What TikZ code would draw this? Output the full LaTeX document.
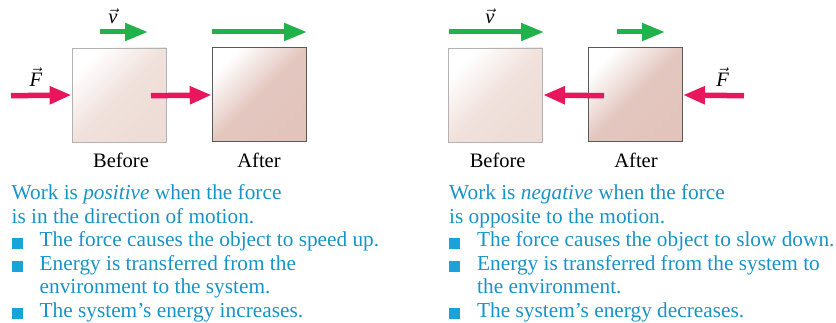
\documentclass[tikz,border=0pt]{standalone}
\usepackage{fontspec}
\setmainfont{Liberation Serif}
\usetikzlibrary{arrows.meta}
\definecolor{vgreen}{HTML}{22B24C}
\definecolor{fred}{HTML}{E8175D}
\definecolor{txtblue}{HTML}{1794C7}
\definecolor{bulblue}{HTML}{1AA3D8}
\definecolor{boxlight}{HTML}{EEDCD6}
\definecolor{boxdark}{HTML}{E2C4BC}
\tikzset{
  velarrow/.style={vgreen, line width=5pt, -{Triangle[length=23pt,width=17pt]}},
  forcearrow/.style={fred, line width=5.5pt, -{Triangle[length=22pt,width=17pt]}},
  lightbox/.style={draw=black!30, line width=0.8pt, minimum size=94pt, inner sep=0pt,
    top color=white, bottom color=boxlight, middle color=boxlight!85!white, shading angle=45},
  darkbox/.style={draw=black!65, line width=1pt, minimum size=94pt, inner sep=0pt,
    top color=white, bottom color=boxdark, middle color=boxdark!95!white, shading angle=45},
  caption/.style={font=\fontsize{20.5}{24}\selectfont, anchor=base, inner sep=0pt},
  body/.style={font=\fontsize{21.3}{24}\selectfont, text=txtblue, anchor=base west, inner sep=0pt},
  vlabel/.style={font=\fontsize{20.5}{24}\selectfont\itshape, inner sep=0pt},
  bulletsq/.style={fill=bulblue, draw=none, minimum size=11pt, inner sep=0pt, anchor=south west},
}
\newcommand{\vecit}[1]{\ensuremath{\vec{\hbox{\itshape #1}}}}
\begin{document}
\begin{tikzpicture}[x=1pt,y=-1pt]
\useasboundingbox (0,0) rectangle (836,323);
% ---------- left panel ----------
\node[lightbox] (b1) at (119,95) {};
\node[darkbox] (a1) at (259.2,95) {};
\coordinate (v1s) at (100,32); \coordinate (v1e) at (148,32);
\draw[velarrow] (v1s) -- (v1e);
\node[vlabel] (v1l) at (113,16) {\vecit{v}};
\coordinate (v2s) at (212,32); \coordinate (v2e) at (307,32);
\draw[velarrow] (v2s) -- (v2e);
\coordinate (f1s) at (11,95.7);
\draw[forcearrow] (f1s) -- (b1.west);
\node[vlabel] (f1l) at (36,77) {\vecit{F}};
\coordinate (f2s) at (151,95.7);
\draw[forcearrow] (f2s) -- (a1.west);
\node[caption] (bl1) at (121,168) {Before};
\node[caption] (al1) at (259,168) {After};
\node[body] (t1) at (11.5,200) {Work is \textit{positive} when the force};
\node[body] (t2) at (11.5,223.5) {is in the direction of motion.};
\node[bulletsq] (s1) at (11.5,249) {};
\node[body] (t3) at (39.5,247) {The force causes the object to speed up.};
\node[bulletsq] (s2) at (11.5,272.5) {};
\node[body] (t4) at (39.5,270.5) {Energy is transferred from the};
\node[body] (t5) at (39.5,294) {environment to the system.};
\node[bulletsq] (s3) at (11.5,319.5) {};
\node[body] (t6) at (39.5,317.5) {The system’s energy increases.};
% ---------- right panel ----------
\node[lightbox] (b2) at (495.7,95) {};
\node[darkbox] (a2) at (635.5,95) {};
\coordinate (v3s) at (449,32); \coordinate (v3e) at (544,32);
\draw[velarrow] (v3s) -- (v3e);
\node[vlabel] (v3l) at (490,16) {\vecit{v}};
\coordinate (v4s) at (617,32); \coordinate (v4e) at (665,32);
\draw[velarrow] (v4s) -- (v4e);
\coordinate (f3s) at (604,95.7);
\draw[forcearrow] (f3s) -- (b2.east);
\coordinate (f4s) at (744,95.7);
\draw[forcearrow] (f4s) -- (a2.east);
\node[vlabel] (f4l) at (722.7,77) {\vecit{F}};
\node[caption] (bl2) at (497.7,168) {Before};
\node[caption] (al2) at (636,168) {After};
\node[body] (u1) at (449,200) {Work is \textit{negative} when the force};
\node[body] (u2) at (449,223.5) {is opposite to the motion.};
\node[bulletsq] (r1) at (449,249) {};
\node[body] (u3) at (477,247) {The force causes the object to slow down.};
\node[bulletsq] (r2) at (449,272.5) {};
\node[body] (u4) at (477,270.5) {Energy is transferred from the system to};
\node[body] (u5) at (477,294) {the environment.};
\node[bulletsq] (r3) at (449,319.5) {};
\node[body] (u6) at (477,317.5) {The system’s energy decreases.};
\end{tikzpicture}
\end{document}
